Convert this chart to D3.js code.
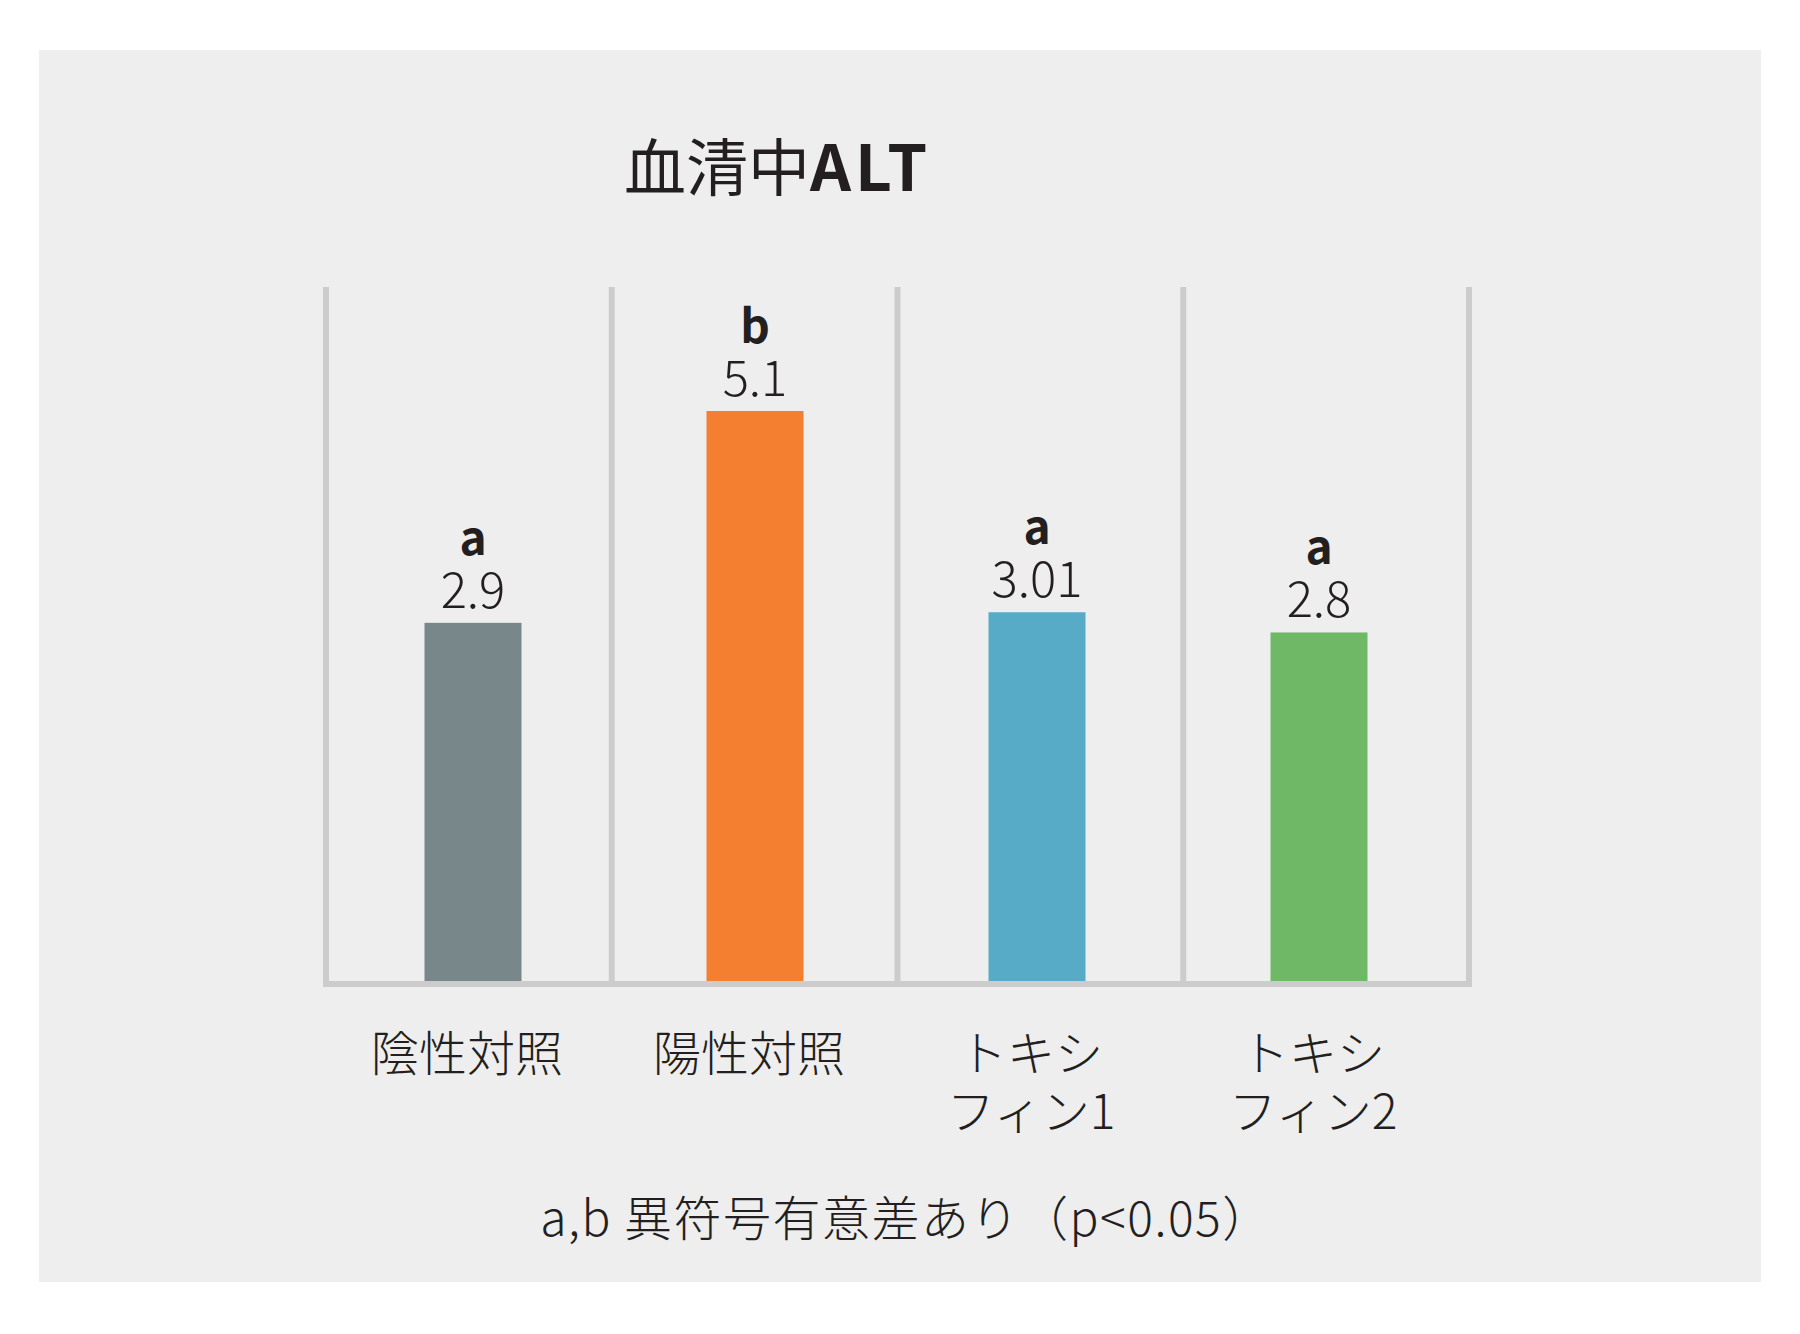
<!DOCTYPE html>
<html>
<head>
<meta charset="utf-8">
<script src="https://cdn.jsdelivr.net/npm/d3@7"></script>
<style>
  body { margin: 0; background: #ffffff; }
  svg { display: block; }
</style>
</head>
<body>
<div id="chart"></div>
<script>
// data
const categories = ["陰性対照", "陽性対照", "トキシフィン1", "トキシフィン2"];
const categoryLines = [["陰性対照"], ["陽性対照"], ["トキシ", "フィン1"], ["トキシ", "フィン2"]];
const values = [2.9, 5.1, 3.01, 2.8];
const valueLabels = ["2.9", "5.1", "3.01", "2.8"];
const groupLetters = ["a", "b", "a", "a"];

const barColors = ["#78878a", "#f47f30", "#58abc6", "#6fb866"];
const textColor = "#231f20";
const gridColor = "#cccccc";
const font = "'Noto Sans CJK JP', 'Noto Sans', sans-serif";

const size = {width: 1800, height: 1334};
const plot = {left: 326, right: 1469, top: 287, bottom: 984};

const svg = d3.select("#chart").append("svg")
    .attr("width", size.width)
    .attr("height", size.height);

// grey panel
svg.append("rect")
    .attr("x", 39).attr("y", 50)
    .attr("width", 1722).attr("height", 1232)
    .attr("fill", "#eeeeee");

// title
svg.append("text")
    .attr("x", 624).attr("y", 191)
    .attr("font-family", font)
    .attr("font-size", 62)
    .attr("fill", textColor)
    .call(t => {
        t.append("tspan").text("血清中");
        t.append("tspan").attr("font-weight", 700)
            .attr("font-size", 64)
            .attr("letter-spacing", 4)
            .text("ALT");
    });

// cells between the separators
const cellScale = d3.scaleBand()
    .domain(categories)
    .range([plot.left, plot.right]);

// bars sit a little off the cell centres in the original
const xScale = d3.scaleBand()
    .domain(categories)
    .range([plot.left + 6, plot.right - 9]);

// the original bars are not drawn from zero, so the floor is fitted to the picture
const yScale = d3.scaleLinear()
    .domain([-0.83, 5.1])
    .range([plot.bottom - 2, 411]);

const barWidth = 97;
const cx = d => xScale(d.cat) + xScale.bandwidth() / 2;

// vertical separators at cell edges
const edges = categories.map(c => cellScale(c)).concat([plot.right]);
svg.append("g").attr("class", "gridG")
    .selectAll("line")
    .data(edges)
    .join("line")
    .attr("x1", d => d).attr("x2", d => d)
    .attr("y1", plot.top).attr("y2", plot.bottom)
    .attr("stroke", gridColor)
    .attr("stroke-width", 6);

const barsG = svg.append("g").attr("class", "barsG");
const items = categories.map((c, i) => ({cat: c, value: values[i], label: valueLabels[i], letter: groupLetters[i], lines: categoryLines[i], color: barColors[i]}));

barsG.selectAll(".bar")
    .data(items)
    .join("rect")
    .attr("class", "bar")
    .attr("x", d => cx(d) - barWidth / 2)
    .attr("width", barWidth)
    .attr("y", d => yScale(d.value))
    .attr("height", d => yScale.range()[0] - yScale(d.value))
    .attr("fill", d => d.color);

// baseline
svg.append("line")
    .attr("x1", plot.left - 3).attr("x2", plot.right + 3)
    .attr("y1", plot.bottom).attr("y2", plot.bottom)
    .attr("stroke", gridColor)
    .attr("stroke-width", 6);

// value and significance letters
barsG.selectAll(".valLabel")
    .data(items)
    .join("text")
    .attr("class", "valLabel")
    .attr("x", cx)
    .attr("y", d => yScale(d.value) - 15)
    .attr("text-anchor", "middle")
    .attr("font-family", font)
    .attr("font-weight", 300)
    .attr("font-size", 49)
    .attr("fill", textColor)
    .text(d => d.label);

barsG.selectAll(".letterLabel")
    .data(items)
    .join("text")
    .attr("class", "letterLabel")
    .attr("x", cx)
    .attr("y", d => yScale(d.value) - 68)
    .attr("text-anchor", "middle")
    .attr("font-family", font)
    .attr("font-weight", 700)
    .attr("font-size", 46)
    .attr("fill", textColor)
    .text(d => d.letter);

// category labels
const catG = svg.append("g").attr("class", "catG");
catG.selectAll("text")
    .data(items)
    .join("text")
    .attr("x", d => cx(d) - 6)
    .attr("y", 1050)
    .attr("text-anchor", "middle")
    .attr("font-family", font)
    .attr("font-weight", 300)
    .attr("font-size", 48)
    .attr("fill", textColor)
    .each(function (d) {
        const t = d3.select(this);
        d.lines.forEach((line, j) => {
            t.append("tspan")
                .attr("x", t.attr("x"))
                .attr("y", 1050 + j * 58)
                .attr("dominant-baseline", "central")
                .text(line);
        });
    });

// footnote
svg.append("text")
    .attr("x", 906).attr("y", 1215)
    .attr("text-anchor", "middle")
    .attr("dominant-baseline", "central")
    .attr("font-family", font)
    .attr("font-weight", 300)
    .attr("font-size", 48)
    .attr("letter-spacing", 1.5)
    .attr("fill", textColor)
    .text("a,b 異符号有意差あり（p<0.05）");
</script>
</body>
</html>
